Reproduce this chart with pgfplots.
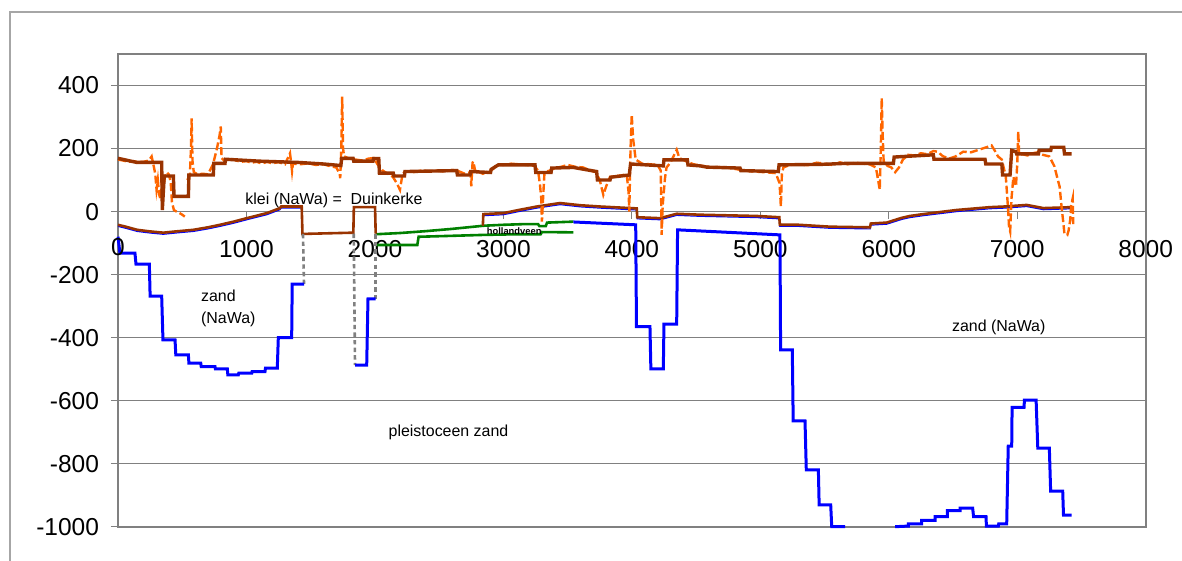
\documentclass[border=0pt]{standalone}
\usepackage{fontspec}
\setmainfont{Liberation Sans}
\usepackage{pgfplots}
\pgfplotsset{compat=1.18}
\definecolor{cblue}{RGB}{0,0,255}
\definecolor{cbrown}{RGB}{153,51,0}
\definecolor{corange}{RGB}{255,102,0}
\definecolor{cgreen}{RGB}{0,128,0}
\definecolor{cgrid}{RGB}{128,128,128}
\definecolor{cframe}{RGB}{166,166,166}
\begin{document}
\begin{tikzpicture}
\useasboundingbox (-59bp,-17.15bp) rectangle (532bp,263.35bp);
\draw[cframe, line width=0.65bp] (-54bp,-17.15bp) -- (-54bp,257.35bp) -- (532bp,257.35bp);
\begin{axis}[
  at={(0,0)}, anchor=south west,
  scale only axis, width=513.85bp, height=236.35bp,
  xmin=0, xmax=8000, ymin=-1000, ymax=500,
  axis x line=middle, axis y line=left,
  axis line style={-},
  x axis line style={draw=cgrid, line width=0.75bp},
  y axis line style={draw=cgrid, line width=1.2bp},
  xtick={0,1000,...,8000},
  ytick={-1000,-800,...,400},
  tick align=outside,
  major tick length=3.5bp,
  tick style={cgrid, line width=0.5bp},
  ymajorgrids, grid style={cgrid, line width=0.55bp},
  tick label style={font=\fontsize{12.3}{14}\selectfont},
  xticklabel style={yshift=-7.5bp},
  yticklabel style={xshift=-2.5bp},
  /pgf/number format/assume math mode=true,
  /pgf/number format/1000 sep={},
  clip=false,
  unbounded coords=jump,
]
\draw[cgrid, line width=1.2bp] (rel axis cs:0,0) rectangle (rel axis cs:1,1);

% green: hollandveen top and bottom
\addplot[cgreen, line width=1.3bp] coordinates {
(2006,-72) (2200,-68) (2400,-62) (2600,-55) (2844,-45) (3000,-42) (3150,-40) (3270,-40) (3280,-46) (3330,-46) (3340,-35) (3545,-32)};
\addplot[cgreen, line width=1.3bp] coordinates {
(2006,-106) (2330,-106) (2340,-80) (2600,-77) (2850,-74) (3100,-72) (3290,-72) (3300,-65) (3545,-66)};

% thin blue under lower brown
\addplot[cblue, line width=0.6bp] coordinates {
(0,-47) (60,-53) (150,-63) (250,-68) (353,-72) (450,-68) (586,-63) (700,-55) (794,-47) (900,-37) (1002,-26) (1080,-18) (1158,-10) (1210,-2) (1261,6) (1270,11) (1430,11) (1431,nan)
(2844,-13) (3000,-10) (3120,0) (3260,11) (3441,22) (3600,15) (3753,11) (4038,5) (4042,-23) (4220,-26) (4350,-12) (4531,-15) (4972,-19) (5148,-23) (5152,-47) (5300,-47) (5543,-53) (5854,-55) (5860,-43) (5984,-40) (6100,-25) (6165,-19) (6269,-13) (6529,0) (6788,9) (6900,11) (7074,16) (7204,6) (7424,9)};

% lower brown (base klei)
\addplot[cbrown, line width=1.3bp] coordinates {
(0,-42) (60,-48) (150,-58) (250,-63) (353,-67) (450,-63) (586,-58) (700,-50) (794,-42) (900,-32) (1002,-21) (1080,-13) (1158,-5) (1210,3) (1261,11) (1270,16) (1430,16) (1436,-71) (1832,-67) (1836,14) (2001,14) (2006,-70) (2007,nan)
(2840,-45) (2844,-8) (3000,-5) (3120,5) (3260,16) (3441,27) (3600,20) (3753,16) (4038,10) (4042,-18) (4220,-21) (4350,-7) (4531,-10) (4972,-14) (5148,-18) (5152,-42) (5300,-42) (5543,-48) (5854,-50) (5860,-38) (5984,-35) (6100,-20) (6165,-14) (6269,-8) (6529,5) (6788,14) (6900,16) (7074,21) (7204,11) (7424,14)};

% grey dashed connectors
\addplot[cgrid, line width=1.3bp, dash pattern=on 2.2bp off 1.6bp] coordinates {(1440,-71) (1448,-230)};
\addplot[cgrid, line width=1.3bp, dash pattern=on 2.2bp off 1.6bp] coordinates {(1835,-70) (1845,-487)};
\addplot[cgrid, line width=1.3bp, dash pattern=on 2.2bp off 1.6bp] coordinates {(2006,-72) (2006,-277)};

% blue: top of pleistocene sand
\addplot[cblue, line width=1.5bp] coordinates {
(0,-80) (15,-132) (132,-132) (140,-167) (244,-167) (250,-268) (340,-268) (350,-407) (444,-407) (450,-455) (548,-455) (552,-481) (644,-481) (648,-492) (755,-492) (758,-499) (851,-499) (855,-518) (937,-518) (940,-513) (1041,-513) (1044,-508) (1144,-508) (1148,-497) (1240,-497) (1248,-400) (1352,-400) (1356,-230) (1448,-230) (1449,nan)
(1845,-487) (1936,-487) (1946,-277) (2006,-277) (2007,nan)
(3545,-33) (4030,-42) (4036,-365) (4141,-365) (4148,-499) (4245,-499) (4250,-357) (4349,-357) (4356,-58) (5153,-74) (5158,-439) (5249,-439) (5256,-664) (5348,-664) (5358,-820) (5452,-820) (5458,-931) (5548,-931) (5556,-1000) (5660,-1000) (5661,nan)
(6049,-1000) (6153,-998) (6153,-991) (6256,-991) (6256,-980) (6360,-980) (6360,-968) (6456,-968) (6456,-949) (6555,-949) (6555,-941) (6653,-941) (6660,-968) (6757,-968) (6760,-998) (6853,-998) (6856,-991) (6918,-991) (6930,-744) (6957,-744) (6960,-621) (7053,-621) (7056,-598) (7147,-598) (7160,-751) (7250,-751) (7260,-887) (7354,-887) (7360,-963) (7424,-963)};

% orange dashed: measured surface
\addplot[corange, line width=1.2bp, dash pattern=on 4bp off 1.6bp] coordinates {
(0,165) (40,162) (80,158) (120,160) (160,157) (200,158) (240,162) (262,175) (275,150) (290,120) (300,70) (310,100) (320,55) (330,40) (340,90) (350,60) (365,110) (380,125) (395,118) (410,95) (420,30) (435,5) (455,0) (480,-5) (500,-10) (520,-16) (521,nan)
(540,100) (560,120) (568,200) (573,296) (580,160) (590,125) (620,118) (660,120) (700,118) (740,150) (770,200) (790,240) (800,270) (806,170) (830,160) (870,168) (920,162) (960,158) (1000,160) (1040,155) (1080,158) (1120,152) (1160,158) (1200,153) (1250,157) (1300,150) (1339,185) (1348,155) (1355,128) (1362,152) (1420,150) (1480,153) (1540,148) (1600,150) (1660,143) (1700,140) (1725,120) (1730,106) (1738,200) (1745,365) (1752,200) (1760,175) (1800,168) (1850,165) (1900,162) (1950,168) (1990,170) (2020,150) (2060,130) (2100,120) (2140,110) (2170,90) (2195,69) (2215,120) (2240,128) (2300,125) (2360,130) (2420,128) (2480,130) (2540,127) (2600,132) (2640,130) (2700,120) (2745,125) (2750,80) (2760,155) (2766,159) (2780,130) (2840,120) (2880,128) (2920,135) (2950,150) (3000,148) (3060,152) (3120,150) (3180,148) (3240,145) (3270,130) (3285,85) (3295,40) (3300,-32) (3310,50) (3320,125) (3360,130) (3400,138) (3450,142) (3500,148) (3560,142) (3620,140) (3680,130) (3720,125) (3750,100) (3778,53) (3800,80) (3830,110) (3870,112) (3920,115) (3960,118) (3975,60) (3980,0) (3990,200) (3999,307) (4010,230) (4030,165) (4080,152) (4140,150) (4200,148) (4225,130) (4232,-74) (4240,20) (4258,106) (4270,140) (4300,155) (4349,196) (4370,170) (4420,160) (4480,150) (4550,145) (4620,140) (4700,142) (4780,137) (4850,132) (4920,128) (4990,126) (5060,124) (5120,122) (5150,90) (5160,16) (5168,120) (5180,140) (5230,148) (5300,150) (5370,147) (5440,155) (5500,152) (5560,148) (5620,156) (5680,150) (5740,155) (5800,152) (5850,150) (5900,140) (5930,69) (5938,200) (5945,360) (5952,250) (5960,160) (5990,145) (6020,140) (6050,125) (6080,140) (6110,165) (6150,180) (6200,178) (6250,185) (6300,182) (6347,192) (6380,190) (6420,176) (6470,168) (6520,175) (6580,190) (6640,188) (6700,196) (6760,204) (6800,210) (6830,190) (6850,175) (6880,165) (6900,130) (6910,116) (6920,60) (6930,0) (6936,-48) (6945,-63) (6955,40) (6970,110) (6990,80) (7000,150) (7008,254) (7015,180) (7040,182) (7080,178) (7120,185) (7160,188) (7200,180) (7250,175) (7290,143) (7310,110) (7330,79) (7345,16) (7360,-40) (7367,-69) (7390,-74) (7400,-60) (7413,-25) (7420,20) (7432,42) (7436,-40)};

% upper brown (maaiveld)
\addplot[cbrown, line width=1.7bp] coordinates {
(0,169) (145,156) (340,156) (345,5) (360,113) (431,113) (436,48) (548,48) (552,116) (742,116) (746,153) (833,153) (836,166) (1100,160) (1400,156) (1600,151) (1735,146) (1741,169) (1830,169) (1835,160) (1985,160) (1990,168) (2030,168) (2035,122) (2143,122) (2148,113) (2230,113) (2234,127) (2637,130) (2642,116) (2740,116) (2745,127) (2900,124) (2905,134) (2960,148) (3246,148) (3252,124) (3371,124) (3376,138) (3545,140) (3726,127) (3732,100) (3830,100) (3836,109) (3980,116) (3990,151) (4245,145) (4250,164) (4432,164) (4437,148) (4531,145) (4583,141) (4842,138) (4848,130) (5140,127) (5146,148) (5491,150) (5672,153) (6036,153) (6042,173) (6347,180) (6352,166) (6749,166) (6755,151) (6880,151) (6886,116) (6944,116) (6957,194) (6990,190) (6995,183) (7165,183) (7170,194) (7261,194) (7266,204) (7362,204) (7368,183) (7424,183)};

% tick label at the origin (hidden by pgfplots where the axis lines meet)
\node[anchor=north, font=\fontsize{12.3}{14}\selectfont] at ([yshift=-9.8bp]axis cs:0,0) {0};

% annotations
\node[anchor=base west, inner sep=0, font=\fontsize{8}{9.6}\selectfont] at (axis cs:989,24) {klei (NaWa) =\ \ Duinkerke};
\node[anchor=base, inner sep=0, font=\fontsize{4.7}{5.6}\selectfont\bfseries] at (axis cs:3084,-74) {hollandveen};
\node[anchor=base west, inner sep=0, font=\fontsize{8}{9.6}\selectfont] at (axis cs:644,-286) {zand};
\node[anchor=base west, inner sep=0, font=\fontsize{8}{9.6}\selectfont] at (axis cs:644,-354) {(NaWa)};
\node[anchor=base west, inner sep=0, font=\fontsize{8}{9.6}\selectfont] at (axis cs:2104,-714) {pleistoceen zand};
\node[anchor=base west, inner sep=0, font=\fontsize{8}{9.6}\selectfont] at (axis cs:6490,-381) {zand (NaWa)};
\end{axis}
\end{tikzpicture}
\end{document}
